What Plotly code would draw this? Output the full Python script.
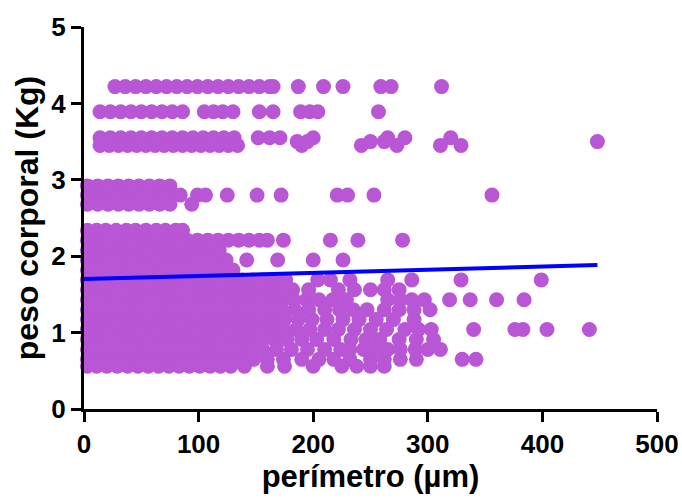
import plotly.graph_objects as go

# Perímetro (µm) medido en cada nivel de peso corporal (Kg)
p_422 = [27, 36, 45, 54, 63, 72, 81, 90, 99, 108, 117, 126, 135, 144, 153, 162, 165, 187, 209, 226, 259, 268, 312]
p_389 = [14, 23, 32, 41, 50, 59, 68, 77, 86, 105, 113, 121, 130, 153, 165, 189, 197, 204, 257]
p_355 = [14, 23, 32, 41, 50, 59, 68, 77, 86, 95, 104, 113, 122, 131, 152, 162, 171, 200, 265, 280, 320]
p_350 = [186, 195, 250, 262, 448]
p_345 = [14, 22, 30, 38, 46, 54, 62, 70, 78, 86, 94, 102, 110, 118, 126, 134, 190, 242, 273, 311, 329]
p_292 = [3, 12, 21, 30, 39, 48, 57, 66, 75]
p_280 = [3, 12, 21, 30, 39, 48, 57, 66, 75, 84, 99, 106, 125, 151, 172, 221, 230, 253, 356]
p_268 = [3, 12, 21, 30, 39, 48, 57, 66, 75, 94]
p_234 = [3, 11, 19, 28, 37, 45, 54, 63, 71, 80, 86]
p_221 = [3, 12, 20, 29, 38, 47, 55, 64, 73, 82, 90, 99, 108, 117, 126, 135, 144, 153, 160, 174, 215, 239, 278]
p_208 = [3, 12, 21, 30, 39, 48, 57, 65, 74, 83, 92, 101, 110, 118]
p_195 = [3, 11, 20, 29, 38, 47, 56, 65, 74, 83, 92, 100, 109, 117, 124, 142, 169, 200, 226]
p_182 = [3, 12, 21, 30, 39, 48, 57, 66, 75, 84, 93, 102, 111, 120, 130]
p_169 = [3, 12, 21, 30, 39, 48, 57, 66, 75, 84, 93, 102, 111, 120, 129, 138, 147, 156, 165, 176,
         204, 215, 232, 265, 286, 329, 399]
p_156 = [3, 11, 20, 29, 38, 47, 56, 65, 74, 83, 92, 101, 110, 119, 128, 137, 146, 155, 164, 173,
         182, 196, 222, 236, 250, 262, 275]
p_143 = [3, 12, 21, 30, 39, 48, 57, 66, 75, 84, 93, 102, 111, 120, 129, 138, 147, 156, 165, 174,
         183, 194, 205, 217, 229, 265, 276, 286, 297, 319, 337, 360, 384]
p_130 = [3, 11, 20, 29, 38, 47, 56, 65, 74, 83, 92, 101, 110, 119, 128, 137, 146, 155, 164, 173,
         184, 196, 210, 223, 235, 247, 262, 275, 288, 302]
p_117 = [3, 12, 21, 30, 39, 48, 57, 66, 75, 84, 93, 102, 111, 120, 129, 138, 147, 156, 165, 175,
         187, 199, 212, 226, 240, 255, 270, 288]
p_104 = [3, 11, 20, 29, 38, 47, 56, 65, 74, 83, 92, 101, 110, 119, 128, 137, 146, 155, 164, 174,
         185, 197, 210, 222, 236, 250, 264, 280, 292, 303, 340, 376, 383, 404, 441]
p_091 = [3, 12, 21, 30, 39, 48, 57, 66, 75, 84, 93, 102, 111, 120, 129, 138, 147, 156, 166, 177,
         190, 203, 218, 233, 246, 258, 275, 290, 305]
p_078 = [3, 11, 20, 29, 38, 47, 56, 65, 74, 83, 92, 101, 110, 119, 128, 137, 146, 156, 168, 181,
         195, 210, 224, 232, 244, 254, 265, 276, 289, 300, 311]
p_065 = [3, 12, 21, 30, 39, 48, 57, 66, 75, 84, 93, 102, 111, 120, 129, 138, 148, 160, 174, 190,
         205, 218, 232, 250, 262, 276, 290, 330, 342]
p_056 = [3, 11, 20, 29, 38, 47, 56, 65, 74, 83, 92, 101, 110, 119, 128, 140, 160, 175, 200, 225,
         238, 250, 262]

# Recta de regresión lineal (extremos)
recta_x = [0, 448]
recta_y = [1.70, 1.885]

# Ejes
ticks_x = [0, 100, 200, 300, 400, 500]
ticks_y = [0, 1, 2, 3, 4, 5]

niveles = [
    (4.22, p_422), (3.89, p_389), (3.55, p_355), (3.50, p_350), (3.45, p_345),
    (2.92, p_292), (2.80, p_280), (2.68, p_268),
    (2.34, p_234), (2.21, p_221), (2.08, p_208), (1.95, p_195), (1.82, p_182),
    (1.69, p_169), (1.56, p_156), (1.43, p_143), (1.30, p_130), (1.17, p_117),
    (1.04, p_104), (0.91, p_091), (0.78, p_078), (0.65, p_065), (0.56, p_056),
]

xs, ys = [], []
for peso, perimetros in niveles:
    xs.extend(perimetros)
    ys.extend([peso] * len(perimetros))

PURPLE = "#B856D6"
FONT = "Arial, 'Liberation Sans', sans-serif"

fig = go.Figure()
fig.add_trace(go.Scatter(
    x=xs, y=ys, mode="markers",
    marker=dict(size=15, color=PURPLE, line=dict(width=0)),
    cliponaxis=False, showlegend=False, hoverinfo="x+y",
))
fig.add_trace(go.Scatter(
    x=recta_x, y=recta_y, mode="lines",
    line=dict(color="#0000FF", width=4),
    cliponaxis=False, showlegend=False,
))

axis_common = dict(
    showline=True, linecolor="black", linewidth=3,
    ticks="outside", ticklen=10, tickwidth=3, tickcolor="black",
    showgrid=False, zeroline=False,
    tickfont=dict(family=FONT, size=26, color="black", weight="bold"),
    mirror=False, layer="above traces", automargin=False,
)

fig.update_layout(
    width=682, height=500,
    margin=dict(l=84, r=25, t=27, b=91),
    paper_bgcolor="white", plot_bgcolor="white",
    font=dict(family=FONT, color="black"),
    xaxis=dict(
        range=[0, 500], tickvals=ticks_x,
        title=dict(text="perímetro (µm)", font=dict(family=FONT, size=31, weight="bold"), standoff=4),
        **axis_common,
    ),
    yaxis=dict(
        range=[0, 5], tickvals=ticks_y,
        title=dict(text="peso corporal (Kg)", font=dict(family=FONT, size=32, weight="bold"), standoff=4),
        **axis_common,
    ),
)

fig.write_html("out.html")
